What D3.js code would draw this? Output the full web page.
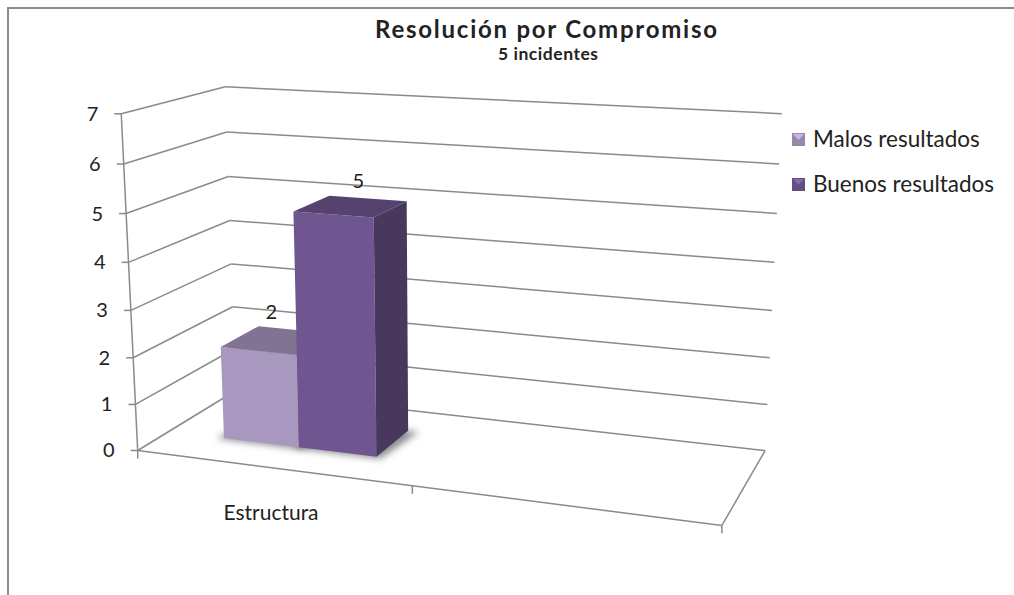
<!DOCTYPE html>
<html>
<head>
<meta charset="utf-8">
<script src="https://cdn.jsdelivr.net/npm/d3@7"></script>
<style>
  body { margin: 0; background: #fff; }
  text { font-family: Lato, "Open Sans", sans-serif; fill: #222; }
</style>
</head>
<body>
<svg id="chart" width="1014" height="595"></svg>
<script>
var title = "Resolución por Compromiso";
var subtitle = "5 incidentes";
var categories = ["Estructura", ""];
var seriesNames = ["Malos resultados", "Buenos resultados"];
var malos = [2, null];
var buenos = [5, null];
var yTicks = [0, 1, 2, 3, 4, 5, 6, 7];
var seriesColors = ["#a898bf", "#6f5690"];

var series = [malos, buenos];
var gapDepth = 1.5;

// where the corners of the 3d box land on screen: [u, v, w] -> [x, y]
// u = along categories, v = value / max, w = depth
var boxPoints = [
  [[0, 0, 0], [138, 449]], [[0, 1, 0], [121, 114]], [[1, 0, 0], [722, 525]],
  [[0, 0, 1], [235, 392]], [[0, 1, 1], [225, 87]], [[1, 0, 1], [765, 450]],
  [[1, 1, 1], [782, 114]], [[0.5, 0, 0], [412, 488]],
  [[0, 3 / 7, 0], [131, 310]], [[0, 3 / 7, 1], [232, 263]], [[1, 3 / 7, 1], [772, 310]]
];

// least squares fit of a perspective camera (dlt)
function fitCamera(pts) {
  var n = 11, M = [], i, j, k;
  for (i = 0; i < n; i++) { M.push([]); for (j = 0; j <= n; j++) M[i].push(0); }
  pts.forEach(function(p) {
    var X = p[0][0], Y = p[0][1], Z = p[0][2], x = p[1][0], y = p[1][1];
    var rows = [[X, Y, Z, 1, 0, 0, 0, 0, -x * X, -x * Y, -x * Z, x],
                [0, 0, 0, 0, X, Y, Z, 1, -y * X, -y * Y, -y * Z, y]];
    rows.forEach(function(r) {
      for (i = 0; i < n; i++) {
        for (j = 0; j < n; j++) M[i][j] += r[i] * r[j];
        M[i][n] += r[i] * r[n];
      }
    });
  });
  for (i = 0; i < n; i++) {
    var piv = i;
    for (k = i + 1; k < n; k++) if (Math.abs(M[k][i]) > Math.abs(M[piv][i])) piv = k;
    var tmp = M[i]; M[i] = M[piv]; M[piv] = tmp;
    for (k = 0; k < n; k++) {
      if (k == i) continue;
      var f = M[k][i] / M[i][i];
      for (j = i; j <= n; j++) M[k][j] -= f * M[i][j];
    }
  }
  var p = M.map(function(r, i) { return r[n] / r[i]; });
  return function(u, v, w) {
    var d = p[8] * u + p[9] * v + p[10] * w + 1;
    return [(p[0] * u + p[1] * v + p[2] * w + p[3]) / d,
            (p[4] * u + p[5] * v + p[6] * w + p[7]) / d];
  };
}

var P = fitCamera(boxPoints);

var x = d3.scaleBand().domain(categories).range([0, 1]);
var xs = d3.scaleBand().domain(seriesNames).range([0, x.bandwidth()]).paddingOuter(0.75);
var y = d3.scaleLinear().domain([0, 7]).range([0, 1]);
var w0 = gapDepth / (1 + gapDepth) / 2, w1 = 1 - w0;

var svg = d3.select("#chart");
var line = d3.line();
var gridColor = "#8a8a8a";

// outer frame
svg.append("path").attr("d", "M8,595V8H1014")
  .attr("fill", "none").attr("stroke", "#8c8c8c").attr("stroke-width", 2);

var defs = svg.append("defs");
defs.append("filter").attr("id", "blur").attr("x", "-50%").attr("y", "-50%")
  .attr("width", "200%").attr("height", "200%")
  .append("feGaussianBlur").attr("stdDeviation", 3.5);

var grid = svg.append("g").attr("fill", "none").attr("stroke", gridColor).attr("stroke-width", 1.5);

yTicks.forEach(function(t) {
  var v = y(t);
  grid.append("path").attr("d", line([P(0, v, 1), P(1, v, 1)]));
  grid.append("path").attr("d", line([P(0, v, 0), P(0, v, 1)]));
  var a = P(0, v, 0);
  grid.append("path").attr("d", line([[a[0] - 7, a[1]], a]));
});
grid.append("path").attr("d", line([P(0, 0, 0), P(1, 0, 0)]));
grid.append("path").attr("d", line([P(1, 0, 0), P(1, 0, 1)]));
grid.append("path").attr("d", line([P(0, 0, 0), P(0, 1, 0)]));
categories.concat([null]).forEach(function(c, i) {
  var u = i < categories.length ? x(c) : 1;
  var a = P(u, 0, 0);
  grid.append("path").attr("d", line([a, [a[0], a[1] + 8]]));
});

// y labels
svg.append("g").selectAll("text").data(yTicks).enter().append("text")
  .attr("x", function(t) { return P(0, y(t), 0)[0] - 23; })
  .attr("y", function(t) { return P(0, y(t), 0)[1] + 7; })
  .attr("text-anchor", "end").attr("font-size", 20)
  .text(function(t) { return t; });

// category labels
svg.append("g").selectAll("text").data(categories).enter().append("text")
  .attr("x", function(c) { return P(x(c) + x.bandwidth() / 2, 0, 0)[0]; })
  .attr("y", function(c) { return P(x(c) + x.bandwidth() / 2, 0, 0)[1] + 52; })
  .attr("text-anchor", "middle").attr("font-size", 21)
  .text(function(c) { return c; });

// bars
var bars = [];
series.forEach(function(vals, si) {
  vals.forEach(function(val, ci) {
    if (val == null) return;
    var u0 = x(categories[ci]) + xs(seriesNames[si]);
    bars.push({ u0: u0, u1: u0 + xs.bandwidth(), v: y(val), val: val, color: seriesColors[si] });
  });
});
bars.sort(function(a, b) { return a.u0 - b.u0; });

var shadows = svg.append("g").attr("filter", "url(#blur)");
bars.forEach(function(b) {
  shadows.append("path")
    .attr("d", line([P(b.u0 - 0.01, 0, w0 - 0.02), P(b.u1 + 0.01, 0, w0 - 0.02),
                     P(b.u1 + 0.02, 0, w1), P(b.u0, 0, w1)]) + "Z")
    .attr("fill", "#000").attr("opacity", 0.45);
});

var barG = svg.append("g");
bars.forEach(function(b) {
  var c = d3.color(b.color);
  var g = barG.append("g");
  g.append("path")
    .attr("d", line([P(b.u0, 0, w0), P(b.u1, 0, w0), P(b.u1, b.v, w0), P(b.u0, b.v, w0)]) + "Z")
    .attr("fill", c);
  g.append("path")
    .attr("d", line([P(b.u0, b.v, w0), P(b.u1, b.v, w0), P(b.u1, b.v, w1), P(b.u0, b.v, w1)]) + "Z")
    .attr("fill", c.darker(0.75));
  g.append("path")
    .attr("d", line([P(b.u1, 0, w0), P(b.u1, 0, w1), P(b.u1, b.v, w1), P(b.u1, b.v, w0)]) + "Z")
    .attr("fill", c.darker(1.2));
});

// data labels
svg.append("g").selectAll("text").data(bars).enter().append("text")
  .attr("x", function(b) { return P((b.u0 + b.u1) / 2, b.v, w1)[0] - 33 + 4.7 * b.val; })
  .attr("y", function(b) { return P((b.u0 + b.u1) / 2, b.v, w1)[1] - 11; })
  .attr("text-anchor", "middle").attr("font-size", 20)
  .text(function(b) { return b.val; });

// title
svg.append("text").attr("x", 546).attr("y", 38).attr("text-anchor", "middle")
  .attr("font-size", 24).attr("font-weight", "bold")
  .attr("textLength", 342).attr("lengthAdjust", "spacing").text(title);
svg.append("text").attr("x", 548).attr("y", 60).attr("text-anchor", "middle")
  .attr("font-size", 17.5).attr("font-weight", "bold")
  .attr("textLength", 100).attr("lengthAdjust", "spacing").text(subtitle);

// legend
var legend = svg.append("g").selectAll("g").data(seriesNames).enter().append("g")
  .attr("transform", function(d, i) { return "translate(792," + (133 + i * 45) + ")"; });
legend.append("rect").attr("width", 13).attr("height", 13)
  .attr("fill", function(d, i) { return d3.color(seriesColors[i]).darker(0.3); });
legend.append("path").attr("d", "M1,1H12L6.5,7Z")
  .attr("fill", function(d, i) { return d3.color(seriesColors[i]).brighter(0.5); });
legend.append("text").attr("x", 21).attr("y", 14).attr("font-size", 22.5)
  .text(function(d) { return d; });
</script>
</body>
</html>
